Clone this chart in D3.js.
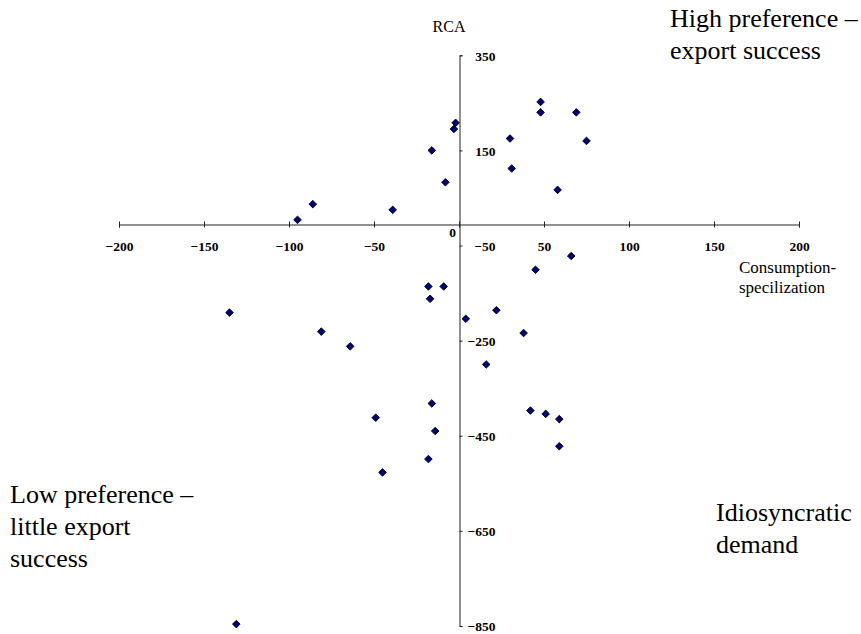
<!DOCTYPE html>
<html>
<head>
<meta charset="utf-8">
<script src="https://cdn.jsdelivr.net/npm/d3@7"></script>
<style>
  html, body { margin: 0; padding: 0; background: #fff; }
  svg { display: block; }
</style>
</head>
<body>
<svg id="chart" width="861" height="634"></svg>
<script>
// Consumption specialization (x) against revealed comparative advantage (y)
const consumption = [-95, -86, -39, -16, -8, -3, -2, 30, 31, 48, 48, 69, 75, 58, 66, 45,
  -18, -9, -17, 22, 4, 38, 16, -16, 42, 51, 59, -14, 59, -135, -81, -64, -49, -18, -45, -131];
const rca = [4, 37, 25, 150, 83, 195, 208, 175, 112, 252, 230, 230, 170, 67, -72, -101,
  -136, -136, -162, -186, -204, -234, -300, -382, -397, -404, -415, -440, -472, -191, -231, -262, -412, -499, -527, -846];

const xTicks = [-200, -150, -100, -50, 0, 50, 100, 150, 200];
const yTicks = [350, 150, -50, -250, -450, -650, -850];

const quadrantNotes = [
  { lines: ["High preference \u2013", "export success"], x: 670, y: 27 },
  { lines: ["Low preference \u2013", "little export", "success"], x: 10, y: 503 },
  { lines: ["Idiosyncratic", "demand"], x: 716, y: 521 }
];

const serif = "'Liberation Serif', 'Times New Roman', serif";
const svg = d3.select("#chart");

const x = d3.scaleLinear().domain([-200, 200]).range([119, 799]);
const y = d3.scaleLinear().domain([-850, 350]).range([626, 55.3]);

const tickFont = g => g.selectAll("text")
  .style("font-family", serif)
  .attr("font-weight", "bold")
  .attr("font-size", 13.5)
  .attr("fill", "#000");

// horizontal axis through RCA = 0
const gx = svg.append("g")
  .attr("transform", `translate(0,${Math.round(y(0)) + 2.5})`)
  .call(d3.axisBottom(x).tickValues(xTicks).tickSizeOuter(0).tickSize(3).tickPadding(0)
    .tickFormat(d3.format("d")));
gx.select(".domain").attr("stroke", "#222");
gx.selectAll(".tick line").attr("stroke", "#222").attr("y1", -3).attr("y2", 3);
gx.call(tickFont);
gx.selectAll(".tick text").attr("y", 26).attr("dy", 0);
gx.selectAll(".tick").filter(d => d === 0).select("text")
  .attr("x", -7).attr("y", 12);

// vertical axis through consumption = 0
const gy = svg.append("g")
  .attr("transform", `translate(${Math.round(x(0)) + 0.5},0)`)
  .call(d3.axisRight(y).tickValues(yTicks).tickSizeOuter(0).tickSize(3)
    .tickFormat(d3.format("d")));
gy.select(".domain").attr("stroke", "#222");
gy.selectAll(".tick line").attr("stroke", "#222");
gy.call(tickFont);
gy.selectAll(".tick text").attr("text-anchor", "end").attr("x", 36).attr("dy", "0.35em");

// axis titles
svg.append("text").attr("x", 449).attr("y", 32).attr("text-anchor", "middle")
  .style("font-family", serif).attr("font-size", 16).attr("fill", "#000").text("RCA");
svg.append("text").attr("x", 739).attr("y", 273).attr("font-size", 17)
  .style("font-family", serif).attr("fill", "#000")
  .selectAll("tspan").data(["Consumption-", "specilization"]).join("tspan")
  .attr("x", 739).attr("dy", (d, i) => i ? 20 : 0).text(d => d);

// quadrant annotations
quadrantNotes.forEach(n => {
  svg.append("text").attr("x", n.x).attr("y", n.y).attr("font-size", 26)
    .style("font-family", serif).attr("fill", "#000")
    .selectAll("tspan").data(n.lines).join("tspan")
    .attr("x", n.x).attr("dy", (d, i) => i ? 32 : 0).text(d => d);
});

// diamond markers
const diamond = "M0,-3.8L3.8,0L0,3.8L-3.8,0Z";
svg.append("g").selectAll("path")
  .data(consumption.map((c, i) => [c, rca[i]]))
  .join("path")
  .attr("d", diamond)
  .attr("transform", d => `translate(${x(d[0])},${y(d[1])})`)
  .attr("fill", "#000080")
  .attr("stroke", "#000")
  .attr("stroke-width", 0.9);
</script>
</body>
</html>
